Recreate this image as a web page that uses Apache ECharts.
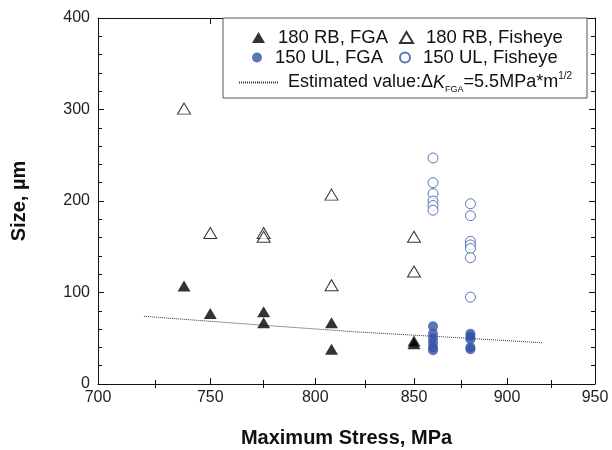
<!DOCTYPE html>
<html><head><meta charset="utf-8">
<script src="https://cdn.jsdelivr.net/npm/echarts@6/dist/echarts.min.js"></script>
<style>html,body{margin:0;padding:0;background:#fff}#c{width:612px;height:450px}</style>
</head><body><div id="c"></div>
<script>
// Data
var rbFgaX = [738, 750, 775, 775, 808, 808, 850, 850];
var rbFgaY = [107, 77, 79, 67, 67, 38, 44, 47];
var rbFishX = [738, 750, 775, 775, 808, 808, 850, 850];
var rbFishY = [301, 165, 165, 161, 207, 108, 161, 123];
var ulFgaX = [860, 860, 860, 860, 860, 860, 880, 880, 880, 880, 880];
var ulFgaY = [63, 55, 50, 45, 40, 37, 55, 52, 49, 40, 38];
var ulFishX = [860, 860, 860, 860, 860, 860, 880, 880, 880, 880, 880, 880, 880];
var ulFishY = [247, 220, 208, 200, 195, 190, 197, 184, 156, 152, 148, 138, 95];
var estX = [720, 770, 820, 870, 920];
var estY = [74, 65, 57, 51, 45];
var xLabels = [700, 750, 800, 850, 900, 950];
var xMinorTicks = [725, 775, 825, 875, 925];
var names = ['180 RB, FGA', '180 RB, Fisheye', '150 UL, FGA', '150 UL, Fisheye', 'Estimated'];

function pairs(xs, ys) { return xs.map(function (x, i) { return [x, ys[i]]; }); }

var FONT = 'Liberation Sans, Arial, sans-serif';
var BLUE = '#3553a8';
var LFS = 18.5;
var chart = echarts.init(document.getElementById('c'));

function lg(name, left, top, extra) {
  var o = {
    data: [name], left: left, top: top, itemGap: 0, padding: 0,
    itemWidth: 13, itemHeight: 11, selectedMode: false,
    textStyle: { fontFamily: FONT, fontSize: LFS, color: '#111', padding: [0, 0, 0, 8] }
  };
  for (var k in extra) o[k] = extra[k];
  return o;
}

var axisLineStyle = { color: '#111', width: 1 };

chart.setOption({
  animation: false,
  grid: { left: 98, right: 17, top: 18, bottom: 66, outerBoundsMode: 'none', containLabel: false },
  graphic: [{
    type: 'rect', shape: { x: 223, y: 18, width: 364, height: 80 },
    style: { fill: '#fff', stroke: '#555', lineWidth: 1 }, z: 1
  }],
  legend: [
    lg(names[0], 252, 28, {}),
    lg(names[1], 399, 28, {}),
    lg(names[2], 252, 48, { itemWidth: 10, itemHeight: 10 }),
    lg(names[3], 399, 48, { itemWidth: 10, itemHeight: 10 }),
    lg(names[4], 238, 71, {
      itemWidth: 40, itemHeight: 2,
      formatter: function () { return '{a|Estimated value:\u0394}{i|K}{sub|FGA}{a|=5.5MPa*m}{sup|1/2}'; },
      textStyle: {
        fontFamily: FONT, fontSize: 18, color: '#111', padding: [0, 0, 0, 4],
        rich: {
          a: { fontFamily: FONT, fontSize: 18, color: '#111' },
          i: { fontFamily: FONT, fontSize: 18, color: '#111', fontStyle: 'italic' },
          sub: { fontFamily: FONT, fontSize: 9, color: '#111', verticalAlign: 'bottom', padding: [13, 0, 0, 0] },
          sup: { fontFamily: FONT, fontSize: 10, color: '#111', verticalAlign: 'top', padding: [0, 0, 13, 0] }
        }
      }
    })
  ],
  xAxis: [{
    type: 'log', logBase: 10, min: 700, max: 950, position: 'bottom',
    name: 'Maximum Stress, MPa', nameLocation: 'middle', nameGap: 44,
    nameTextStyle: { fontFamily: FONT, fontSize: 20, fontWeight: 'bold', color: '#111' },
    axisLine: { onZero: false, lineStyle: axisLineStyle },
    axisTick: { inside: true, length: 6, customValues: xLabels, lineStyle: axisLineStyle },
    axisLabel: { customValues: xLabels, fontFamily: FONT, fontSize: 16, color: '#222', margin: 6 },
    splitLine: { show: false }, minorTick: { show: false }, minorSplitLine: { show: false }
  }, {
    type: 'log', logBase: 10, min: 700, max: 950, position: 'bottom',
    axisLine: { show: false },
    axisTick: { inside: true, length: 4, customValues: xMinorTicks, lineStyle: axisLineStyle },
    axisLabel: { show: false }, splitLine: { show: false }
  }, {
    type: 'log', logBase: 10, min: 700, max: 950, position: 'top',
    axisLine: { onZero: false, lineStyle: axisLineStyle },
    axisTick: { inside: true, length: 6, customValues: xLabels, lineStyle: axisLineStyle },
    axisLabel: { show: false }, splitLine: { show: false }
  }, {
    type: 'log', logBase: 10, min: 700, max: 950, position: 'top',
    axisLine: { show: false },
    axisTick: { inside: true, length: 4, customValues: xMinorTicks, lineStyle: axisLineStyle },
    axisLabel: { show: false }, splitLine: { show: false }
  }],
  yAxis: [{
    type: 'value', min: 0, max: 400, interval: 100, position: 'left',
    name: 'Size, \u00b5m', nameLocation: 'middle', nameGap: 69,
    nameTextStyle: { fontFamily: FONT, fontSize: 20, fontWeight: 'bold', color: '#111' },
    axisLine: { show: true, onZero: false, lineStyle: axisLineStyle },
    axisTick: { show: true, inside: true, length: 6, lineStyle: axisLineStyle },
    minorTick: { show: true, splitNumber: 5, length: 4, lineStyle: axisLineStyle },
    axisLabel: { fontFamily: FONT, fontSize: 16, color: '#222', margin: 8 },
    splitLine: { show: false }
  }, {
    type: 'value', min: 0, max: 400, interval: 100, position: 'right',
    axisLine: { show: true, onZero: false, lineStyle: axisLineStyle },
    axisTick: { show: true, inside: true, length: 6, lineStyle: axisLineStyle },
    minorTick: { show: true, splitNumber: 5, length: 4, lineStyle: axisLineStyle },
    axisLabel: { show: false }, splitLine: { show: false }
  }],
  series: [{
    name: names[4], type: 'line', data: pairs(estX, estY), showSymbol: false, symbol: 'none',
    lineStyle: { color: '#333', width: 1, type: [1, 1] }, z: 2
  }, {
    name: names[0], type: 'scatter', data: pairs(rbFgaX, rbFgaY), symbol: 'triangle', symbolSize: [13, 11],
    itemStyle: { color: '#000' }, z: 3
  }, {
    name: names[1], type: 'scatter', data: pairs(rbFishX, rbFishY), symbol: 'triangle', symbolSize: [13, 11],
    itemStyle: { color: '#fff', borderColor: '#000', borderWidth: 1 }, z: 3
  }, {
    name: names[2], type: 'scatter', data: pairs(ulFgaX, ulFgaY), symbol: 'circle', symbolSize: 10,
    itemStyle: { color: BLUE }, z: 3
  }, {
    name: names[3], type: 'scatter', data: pairs(ulFishX, ulFishY), symbol: 'circle', symbolSize: 10,
    itemStyle: { color: '#fff', borderColor: BLUE, borderWidth: 1 }, z: 3
  }]
});
</script></body></html>
